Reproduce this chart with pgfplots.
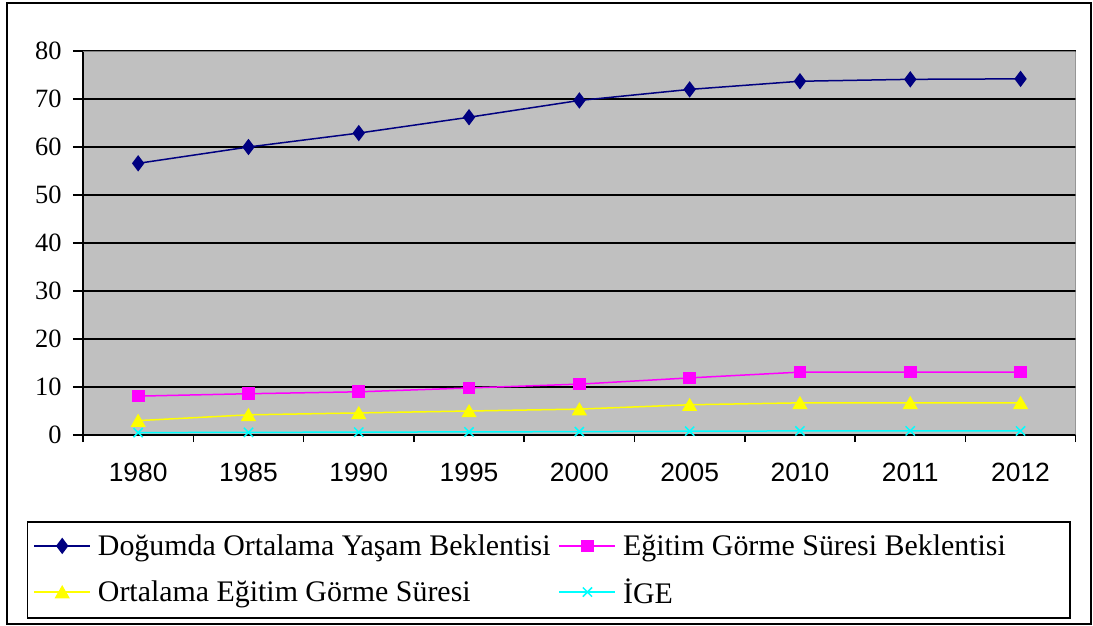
\documentclass[border=0pt]{standalone}
\usepackage{fontspec}
\setmainfont{Liberation Serif}
\newfontfamily\arialfont{Liberation Sans}
\usepackage{pgfplots}
\pgfplotsset{compat=1.18}
\definecolor{bgGray}{HTML}{C0C0C0}
\definecolor{bdGray}{HTML}{808080}
\definecolor{cNavy}{HTML}{000080}
\definecolor{cMag}{HTML}{FF00FF}
\definecolor{cYel}{HTML}{FFFF00}
\definecolor{cCyan}{HTML}{00FFFF}
\begin{document}
\begin{tikzpicture}
\path[use as bounding box] (0,0) rectangle (1093bp,-626bp);
\draw[line width=1.5bp] (7bp,-3bp) rectangle (1091bp,-624bp);
\begin{axis}[
  at={(83bp,-435bp)}, anchor=south west,
  scale only axis, width=992.7bp, height=384bp,
  xmin=-0.5, xmax=8.5, ymin=0, ymax=80,
  axis background/.style={fill=bgGray},
  axis x line*=bottom, axis y line*=left,
  axis line style={line width=1.5bp, -},
  ymajorgrids, major grid style={black, line width=1.5bp},
  ytick={0,10,...,80},
  xtick={0,1,...,8},
  xticklabels={1980,1985,1990,1995,2000,2005,2010,2011,2012},
  minor xtick={-0.5,0.5,...,8.5},
  tick align=outside,
  tick style={black, line width=1.5bp},
  major tick length=10bp,
  minor tick length=7bp,
  every major x tick/.append style={draw=none},
  xticklabel style={font=\arialfont\fontsize{26.5}{30}\selectfont, yshift=-15bp},
  yticklabel style={font=\fontsize{26.5}{30}\selectfont, xshift=-8bp},
  /pgf/number format/assume math mode=true,
  legend columns=2,
  legend style={at={(-0.0567,-0.2240)}, anchor=north west, draw=black, line width=1.5bp,
    fill=white, font=\fontsize{30}{32}\selectfont, inner xsep=6bp, inner ysep=11bp,
    row sep=18bp,
    /tikz/every odd column/.append style={column sep=5bp},
    /tikz/every even column/.append style={column sep=6bp}},
  legend cell align=left,
  legend image code/.code={\draw[mark repeat=2,mark phase=2] plot coordinates {(0bp,0bp) (28bp,0bp) (56bp,0bp)};},
]
\addplot[cNavy, line width=1.5bp, mark=diamond*, mark size=7bp, mark options={solid, fill=cNavy}]
  coordinates {(0,56.6) (1,60.0) (2,62.9) (3,66.2) (4,69.7) (5,72.0) (6,73.7) (7,74.1) (8,74.2)};
\addlegendentry{Doğumda Ortalama Yaşam Beklentisi}
\addplot[cMag, line width=1.5bp, mark=square*, mark size=5.6bp, mark options={solid, fill=cMag}]
  coordinates {(0,8.1) (1,8.6) (2,9.0) (3,9.8) (4,10.6) (5,11.9) (6,13.1) (7,13.1) (8,13.1)};
\addlegendentry{Eğitim Görme Süresi Beklentisi\rule{56bp}{0pt}}
\addplot[cYel, line width=1.5bp, mark=triangle*, mark size=7.3bp, mark options={solid, fill=cYel, yshift=-1.8bp}]
  coordinates {(0,3.0) (1,4.2) (2,4.6) (3,5.0) (4,5.4) (5,6.3) (6,6.7) (7,6.7) (8,6.7)};
\addlegendentry{Ortalama Eğitim Görme Süresi}
\addplot[cCyan, line width=1.5bp, mark=x, mark size=6.5bp, mark options={solid, line width=1.5bp}]
  coordinates {(0,0.50) (1,0.55) (2,0.60) (3,0.65) (4,0.70) (5,0.80) (6,0.85) (7,0.85) (8,0.85)};
\addlegendentry{İGE}
\draw[bdGray, line width=1.5bp] (rel axis cs:0,1) -- (rel axis cs:1,1) -- (rel axis cs:1,0);
\end{axis}
\end{tikzpicture}
\end{document}
